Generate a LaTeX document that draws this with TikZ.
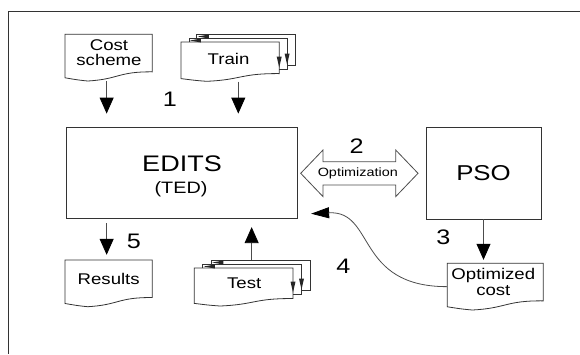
\documentclass[tikz,border=0pt]{standalone}
\usepackage{fontspec}
\setmainfont{Liberation Sans}[FakeStretch=1.2]
\usetikzlibrary{arrows.meta}

\tikzset{
  outline/.style={draw=black!80, line width=0.8pt},
  frameline/.style={draw=black!80, line width=0.9pt},
  box/.style={outline, rectangle, inner sep=0pt},
  docnode/.style={rectangle, inner sep=0pt},
  conn/.style={draw=black!70, line width=0.8pt, -{Triangle[width=14pt,length=16pt,color=black]}},
  curvedconn/.style={draw=black!70, line width=0.8pt, -{Triangle[width=11pt,length=18pt,color=black]}},
  num/.style={font=\fontsize{21}{24}\selectfont, inner sep=0pt, anchor=base},
  doctext/.style={font=\fontsize{15.5}{17}\selectfont, inner sep=0pt, anchor=base},
  tip/.style={fill=black!85},
}

% single sheet with a wavy lower edge: left x, top y, width, height
\newcommand\docpath[4]{%
  \draw[outline] (#1,#2) -- ({#1+#3},#2) -- ({#1+#3},{#2+0.804*#4})
    .. controls ({#1+0.604*#3},{#2+0.797*#4}) and ({#1+0.618*#3},{#2+0.962*#4}) .. ({#1+0.26*#3},{#2+#4})
    .. controls ({#1+0.132*#3},{#2+0.977*#4}) and ({#1+0.086*#3},{#2+0.958*#4}) .. (#1,{#2+0.931*#4}) -- cycle;
}

% stack of three sheets: left x, top y, width, height, x offset, y offset
\newcommand\multidocpath[6]{%
  \pgfmathsetmacro\mdFy{#2+2*#6}%
  \pgfmathsetmacro\mdFw{#3-2*#5}%
  \pgfmathsetmacro\mdFh{#4-2*#6}%
  \pgfmathsetmacro\mdMid{\mdFy+0.804*\mdFh-#6}%
  \pgfmathsetmacro\mdBack{\mdMid-#6}%
  \docpath{#1}{\mdFy}{\mdFw}{\mdFh}
  \draw[outline] ({#1+#5},\mdFy) -- ({#1+#5},{#2+#6}) -- ({#1+#3-#5},{#2+#6})
    -- ({#1+#3-#5},\mdMid) -- ({#1+#3-2*#5},\mdMid);
  \draw[outline] ({#1+2*#5},{#2+#6}) -- ({#1+2*#5},#2) -- ({#1+#3},#2)
    -- ({#1+#3},\mdBack) -- ({#1+#3-#5},\mdBack);
  \fill[tip] ({#1+#5+1},{\mdFy-1.5}) -- ++(11,-2) -- ++(0,4) -- cycle;
  \fill[tip] ({#1+2*#5+1},{#2+#6-1.5}) -- ++(11,-2) -- ++(0,4) -- cycle;
  \fill[tip] ({#1+#3-2*#5},{\mdMid-2}) -- ++(-2.5,-11) -- ++(5,0) -- cycle;
  \fill[tip] ({#1+#3-#5},{\mdBack-1}) -- ++(-2.5,-11) -- ++(5,0) -- cycle;
}

\begin{document}
\begin{tikzpicture}[x=1pt,y=-1pt]
\useasboundingbox (0,0) rectangle (580,354);

% page frame
\draw[frameline] (580,11.5) -- (8.5,11.5) -- (8.5,354);

% main process boxes
\node[box, minimum width=231pt, minimum height=91pt] (edits) at (181.5,172.5) {};
\node[font=\fontsize{22.5}{26}\selectfont, inner sep=0pt, anchor=base] (editsname) at (182,171) {EDITS};
\node[font=\fontsize{16.5}{19}\selectfont, inner sep=0pt, anchor=base] (editssub) at (181,193) {(TED)};
\node[box, minimum width=115pt, minimum height=92pt, font=\fontsize{21.5}{24}\selectfont] (pso) at (483.5,173) {PSO};

% documents
\docpath{65}{34.3}{87.3}{46.7}
\node[docnode, minimum width=87.3pt, minimum height=46.7pt] (cost) at (108.65,57.65) {};
\node[doctext] (costA) at (109,50.7) {Cost};
\node[doctext] (costB) at (109,65.7) {scheme};

\multidocpath{181}{34}{114}{47.3}{7.9}{4}
\node[docnode, minimum width=98.2pt, minimum height=39.3pt] (train) at (230.1,61.65) {};
\node[doctext] (trainlabel) at (228.5,64) {Train};

\docpath{65}{260}{87.3}{46.7}
\node[docnode, minimum width=87.3pt, minimum height=46.7pt] (results) at (108.65,283.35) {};
\node[doctext] (resultslabel) at (108.7,284) {Results};

\multidocpath{194.3}{260}{115.7}{46}{8.5}{4}
\node[docnode, minimum width=98.7pt, minimum height=38pt] (test) at (243.65,287) {};
\node[doctext] (testlabel) at (244.2,288.7) {Test};

\docpath{447.3}{263.3}{96}{46.7}
\node[docnode, minimum width=96pt, minimum height=46.7pt] (opt) at (495.3,286.65) {};
\node[doctext] (optA) at (493.3,279.3) {Optimized};
\node[doctext] (optB) at (493.3,295) {cost};

% two-way optimization arrow
\draw[outline, draw=black!70] (300.7,173.3) -- (323,150) -- (323,161.7) -- (395.7,161.7) -- (395.7,150)
  -- (418,173.3) -- (395.7,196.6) -- (395.7,185) -- (323,185) -- (323,196.6) -- cycle;
\node[font=\fontsize{12}{14}\selectfont, inner sep=0pt, anchor=base] (optlabel) at (357.8,176.7) {Optimization};

% connectors
\draw[conn, shorten >=13pt] ([xshift=-2pt]cost.south) -- ([xshift=-2pt]cost.south |- edits.north);
\draw[conn, shorten >=13pt] ([xshift=8.2pt]train.south) -- ([xshift=8.2pt]train.south |- edits.north);
\draw[conn, shorten <=4.7pt, shorten >=5pt] ([xshift=-2pt]results.north |- edits.south) -- ([xshift=-2pt]results.north);
\draw[conn, shorten >=8.7pt] ([xshift=8pt,yshift=8pt]test.north) -- ([xshift=8pt]test.north |- edits.south);
\draw[conn, shorten >=3.3pt] (pso.south) -- (pso.south |- opt.north);
\coordinate (feedback) at ([xshift=13.7pt,yshift=4.7pt]edits.south east);
\draw[curvedconn] (opt.west) .. controls +(-92,0) and +(64.3,-3.3) .. (feedback);

% step numbers
\node[num] (n1) at (170,106) {1};
\node[num] (n2) at (356.7,153.3) {2};
\node[num] (n3) at (443.3,244.3) {3};
\node[num] (n4) at (343.3,273.3) {4};
\node[num] (n5) at (134,248.3) {5};
\end{tikzpicture}
\end{document}
